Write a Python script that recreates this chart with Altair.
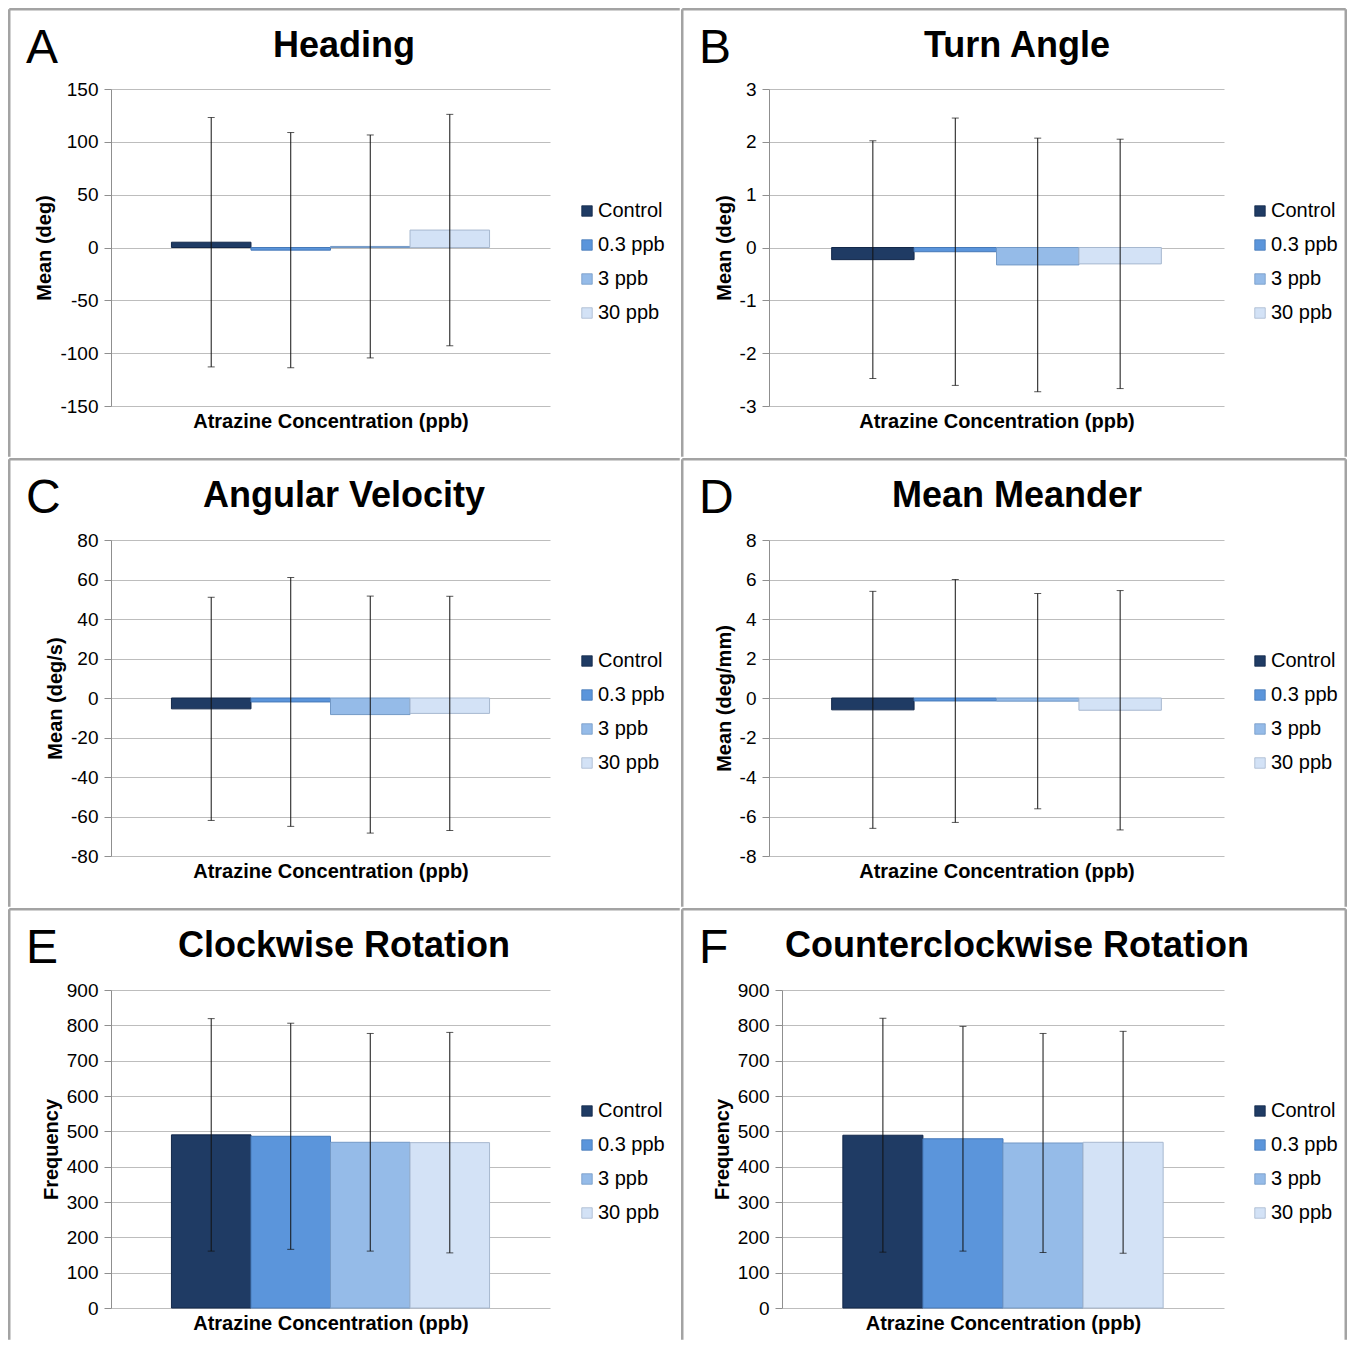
import altair as alt
import pandas as pd

# ---------------- data ----------------
series = ["Control", "0.3 ppb", "3 ppb", "30 ppb"]
fill_colors = ["#1f3b64", "#5b95db", "#95bbe8", "#d3e2f6"]
edge_colors = ["#13284a", "#4679b8", "#7399c6", "#a7b8cf"]

heading_mean = [5, -2.5, 1, 16.5]
heading_sd = [118, 111.3, 105.5, 109.5]
heading_ticks = [-150, -100, -50, 0, 50, 100, 150]

turn_mean = [-0.23, -0.08, -0.33, -0.31]
turn_sd = [2.25, 2.53, 2.40, 2.36]
turn_ticks = [-3, -2, -1, 0, 1, 2, 3]

angvel_mean = [-5.5, -2.0, -8.4, -7.8]
angvel_sd = [56.5, 63.0, 60.0, 59.3]
angvel_ticks = [-80, -60, -40, -20, 0, 20, 40, 60, 80]

meander_mean = [-0.6, -0.15, -0.16, -0.62]
meander_sd = [6.0, 6.15, 5.45, 6.06]
meander_ticks = [-8, -6, -4, -2, 0, 2, 4, 6, 8]

cw_mean = [490, 486, 469, 468]
cw_sd = [329, 320, 308, 312]
freq_ticks = [0, 100, 200, 300, 400, 500, 600, 700, 800, 900]

ccw_mean = [489, 479, 467, 469]
ccw_sd = [331, 318, 310, 314]

letters = ["A", "B", "C", "D", "E", "F"]
titles = ["Heading", "Turn Angle", "Angular Velocity", "Mean Meander",
          "Clockwise Rotation", "Counterclockwise Rotation"]
ytitles = ["Mean (deg)", "Mean (deg)", "Mean (deg/s)", "Mean (deg/mm)",
           "Frequency", "Frequency"]
xtitle = "Atrazine Concentration (ppb)"

means = [heading_mean, turn_mean, angvel_mean, meander_mean, cw_mean, ccw_mean]
sds = [heading_sd, turn_sd, angvel_sd, meander_sd, cw_sd, ccw_sd]
ticks = [heading_ticks, turn_ticks, angvel_ticks, meander_ticks, freq_ticks, freq_ticks]

# ---------------- layout (pixels) ----------------
FONT = "Liberation Sans"
BORDER = "#a3a3a3"
BW = 2.5
FWS = [673, 666]          # frame widths of left / right column
FH = [450, 450, 433]      # frame heights of the three rows
# plot-area offset inside the panel frame and plot-area size
geom = [
    dict(ox=103, oy=81, w=439, h=317),
    dict(ox=88, oy=81, w=455, h=317),
    dict(ox=103, oy=82, w=439, h=316),
    dict(ox=88, oy=82, w=455, h=316),
    dict(ox=103, oy=82, w=439, h=318),
    dict(ox=101, oy=82, w=442, h=318),
]
CENTERS = [336, 336]      # title centre inside frame


def panel(i):
    g = geom[i]
    ox, oy, w, h = g["ox"], g["oy"], g["w"], g["h"]
    fh = FH[i // 2]
    right_col = (i % 2 == 1)
    FW = FWS[i % 2]
    hb = BW / 2

    df = pd.DataFrame({
        "series": series,
        "mean": means[i],
        "lo": [m - s for m, s in zip(means[i], sds[i])],
        "hi": [m + s for m, s in zip(means[i], sds[i])],
    })
    tk = ticks[i]
    yscale = alt.Scale(domain=[tk[0], tk[-1]], nice=False, zero=False)
    yaxis = alt.Axis(values=tk, title=ytitles[i], grid=True,
                     labelExpr="'' + datum.value")
    xenc = alt.X("series:N",
                 scale=alt.Scale(domain=series, paddingInner=0, paddingOuter=0.76),
                 axis=alt.Axis(labels=False, ticks=False, domain=False, grid=False,
                               title=xtitle))

    bars = alt.Chart(df).mark_bar(strokeWidth=1).encode(
        x=xenc,
        y=alt.Y("mean:Q", scale=yscale, axis=yaxis),
        y2=alt.datum(0),
        color=alt.Color("series:N",
                        scale=alt.Scale(domain=series, range=fill_colors),
                        legend=alt.Legend(orient="none", legendX=569 - ox,
                                          legendY=193 - oy, title=None,
                                          symbolType="square", symbolSize=110,
                                          symbolStrokeWidth=0.8,
                                          symbolStrokeColor="#6c7f98",
                                          labelFontSize=20, labelFont=FONT,
                                          labelColor="#000000", labelOffset=1,
                                          rowPadding=14)),
        stroke=alt.Stroke("series:N",
                          scale=alt.Scale(domain=series, range=edge_colors),
                          legend=None),
    )
    err = alt.Chart(df).mark_rule(color="#111111", strokeWidth=1).encode(
        x=xenc,
        y=alt.Y("lo:Q", scale=yscale, axis=yaxis),
        y2="hi:Q",
    )
    cap_lo = alt.Chart(df).mark_tick(color="#111111", thickness=1, size=7).encode(
        x=xenc, y=alt.Y("lo:Q", scale=yscale, axis=yaxis))
    cap_hi = alt.Chart(df).mark_tick(color="#111111", thickness=1, size=7).encode(
        x=xenc, y=alt.Y("hi:Q", scale=yscale, axis=yaxis))

    one = pd.DataFrame({"t": [titles[i]], "l": [letters[i]]})
    frame = alt.Chart(one).mark_rect(opacity=0).encode(
        x=alt.value(-ox), x2=alt.value(FW - ox),
        y=alt.value(-oy), y2=alt.value(fh - oy))
    top_rule = alt.Chart(one).mark_rule(color=BORDER, strokeWidth=BW).encode(
        x=alt.value(-ox + hb), x2=alt.value(FW - ox - hb), y=alt.value(-oy + hb))
    left_rule = alt.Chart(one).mark_rule(color=BORDER, strokeWidth=BW).encode(
        x=alt.value(-ox + hb), y=alt.value(-oy + hb), y2=alt.value(fh - oy - hb))
    title = alt.Chart(one).mark_text(font=FONT, fontSize=36, fontWeight="bold",
                                     align="center", baseline="alphabetic",
                                     color="#000000").encode(
        x=alt.value(CENTERS[i % 2] - ox), y=alt.value(49 - oy), text="t:N")
    letter = alt.Chart(one).mark_text(font=FONT, fontSize=48, align="left",
                                      baseline="alphabetic", color="#000000").encode(
        x=alt.value(18 - ox), y=alt.value(55 - oy), text="l:N")

    layers = [frame, bars, err, cap_lo, cap_hi, top_rule, left_rule, title, letter]
    if right_col:
        right_rule = alt.Chart(one).mark_rule(color=BORDER, strokeWidth=BW).encode(
            x=alt.value(FW - ox - hb), y=alt.value(-oy + hb), y2=alt.value(fh - oy - hb))
        layers.append(right_rule)
    return alt.layer(*layers).properties(width=w, height=h)


rows = [
    alt.hconcat(panel(2 * r), panel(2 * r + 1), spacing=0)
    .resolve_scale(color="independent", stroke="independent")
    for r in range(3)
]
chart = alt.vconcat(*rows, spacing=0).resolve_scale(
    color="independent", stroke="independent"
).properties(padding=0).configure(
    font=FONT
).configure_view(strokeWidth=0).configure_axis(
    labelFont=FONT, titleFont=FONT, labelFontSize=19, labelColor="#000000",
    titleFontSize=20, titleFontWeight="bold", titleColor="#000000",
    gridColor="#bdbdbd", gridWidth=1, domainColor="#8f8f8f", tickColor="#8f8f8f",
    tickSize=7, labelPadding=6,
).configure_axisY(titlePadding=5).configure_axisX(titlePadding=5)

chart.save("out.html", embed_options={"renderer": "svg", "actions": False})
